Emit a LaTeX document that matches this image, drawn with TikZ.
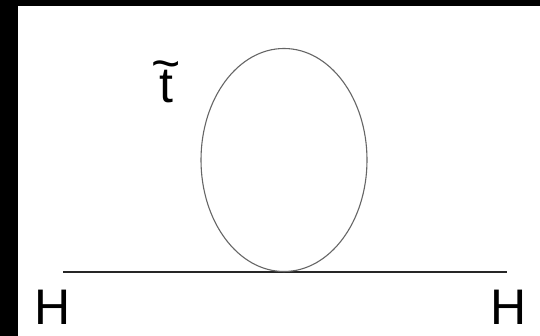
\documentclass[tikz,border=0pt]{standalone}
\usepackage{fontspec}
\setmainfont{Liberation Sans}
\tikzset{
	label text/.style={font=\fontsize{50}{60}\selectfont, anchor=base, inner sep=0pt},
	higgs/.style={line width=1.4pt, black!85},
	stop/.style={line width=1.1pt, black!60}
}
% stop symbol: t with a wide tilde set high above it
\newcommand{\stopsym}{\ooalign{\hidewidth t\hidewidth\cr\raisebox{22pt}{\textasciitilde}\cr}}
\begin{document}
\begin{tikzpicture}[x=1pt,y=1pt]
		
		% Frame (black edges at left and top)
		\fill[black] (0,0) rectangle (540,336);
		\fill[white] (18,0) rectangle (540,330);
		\useasboundingbox (0,0) rectangle (540,336);
		
		% Higgs line with the vertex in the middle
		\coordinate (Hin) at (63,64);
		\coordinate (vtx) at (284,64);
		\coordinate (Hout) at (507,64);
		\draw[higgs] (Hin) -- (vtx) -- (Hout);
		
		% Stop loop sitting on the vertex
		\coordinate (loopc) at (284,176);
		\draw[stop] (loopc) ellipse [x radius=83, y radius=111.5];
		
		% Labels
		\node[label text] (Hleft) at (53,11) {H};
		\node[label text] (Hright) at (509,11) {H};
		\node[label text] (stoplbl) at (166.5,233) {\stopsym};
		
	\end{tikzpicture}
\end{document}
